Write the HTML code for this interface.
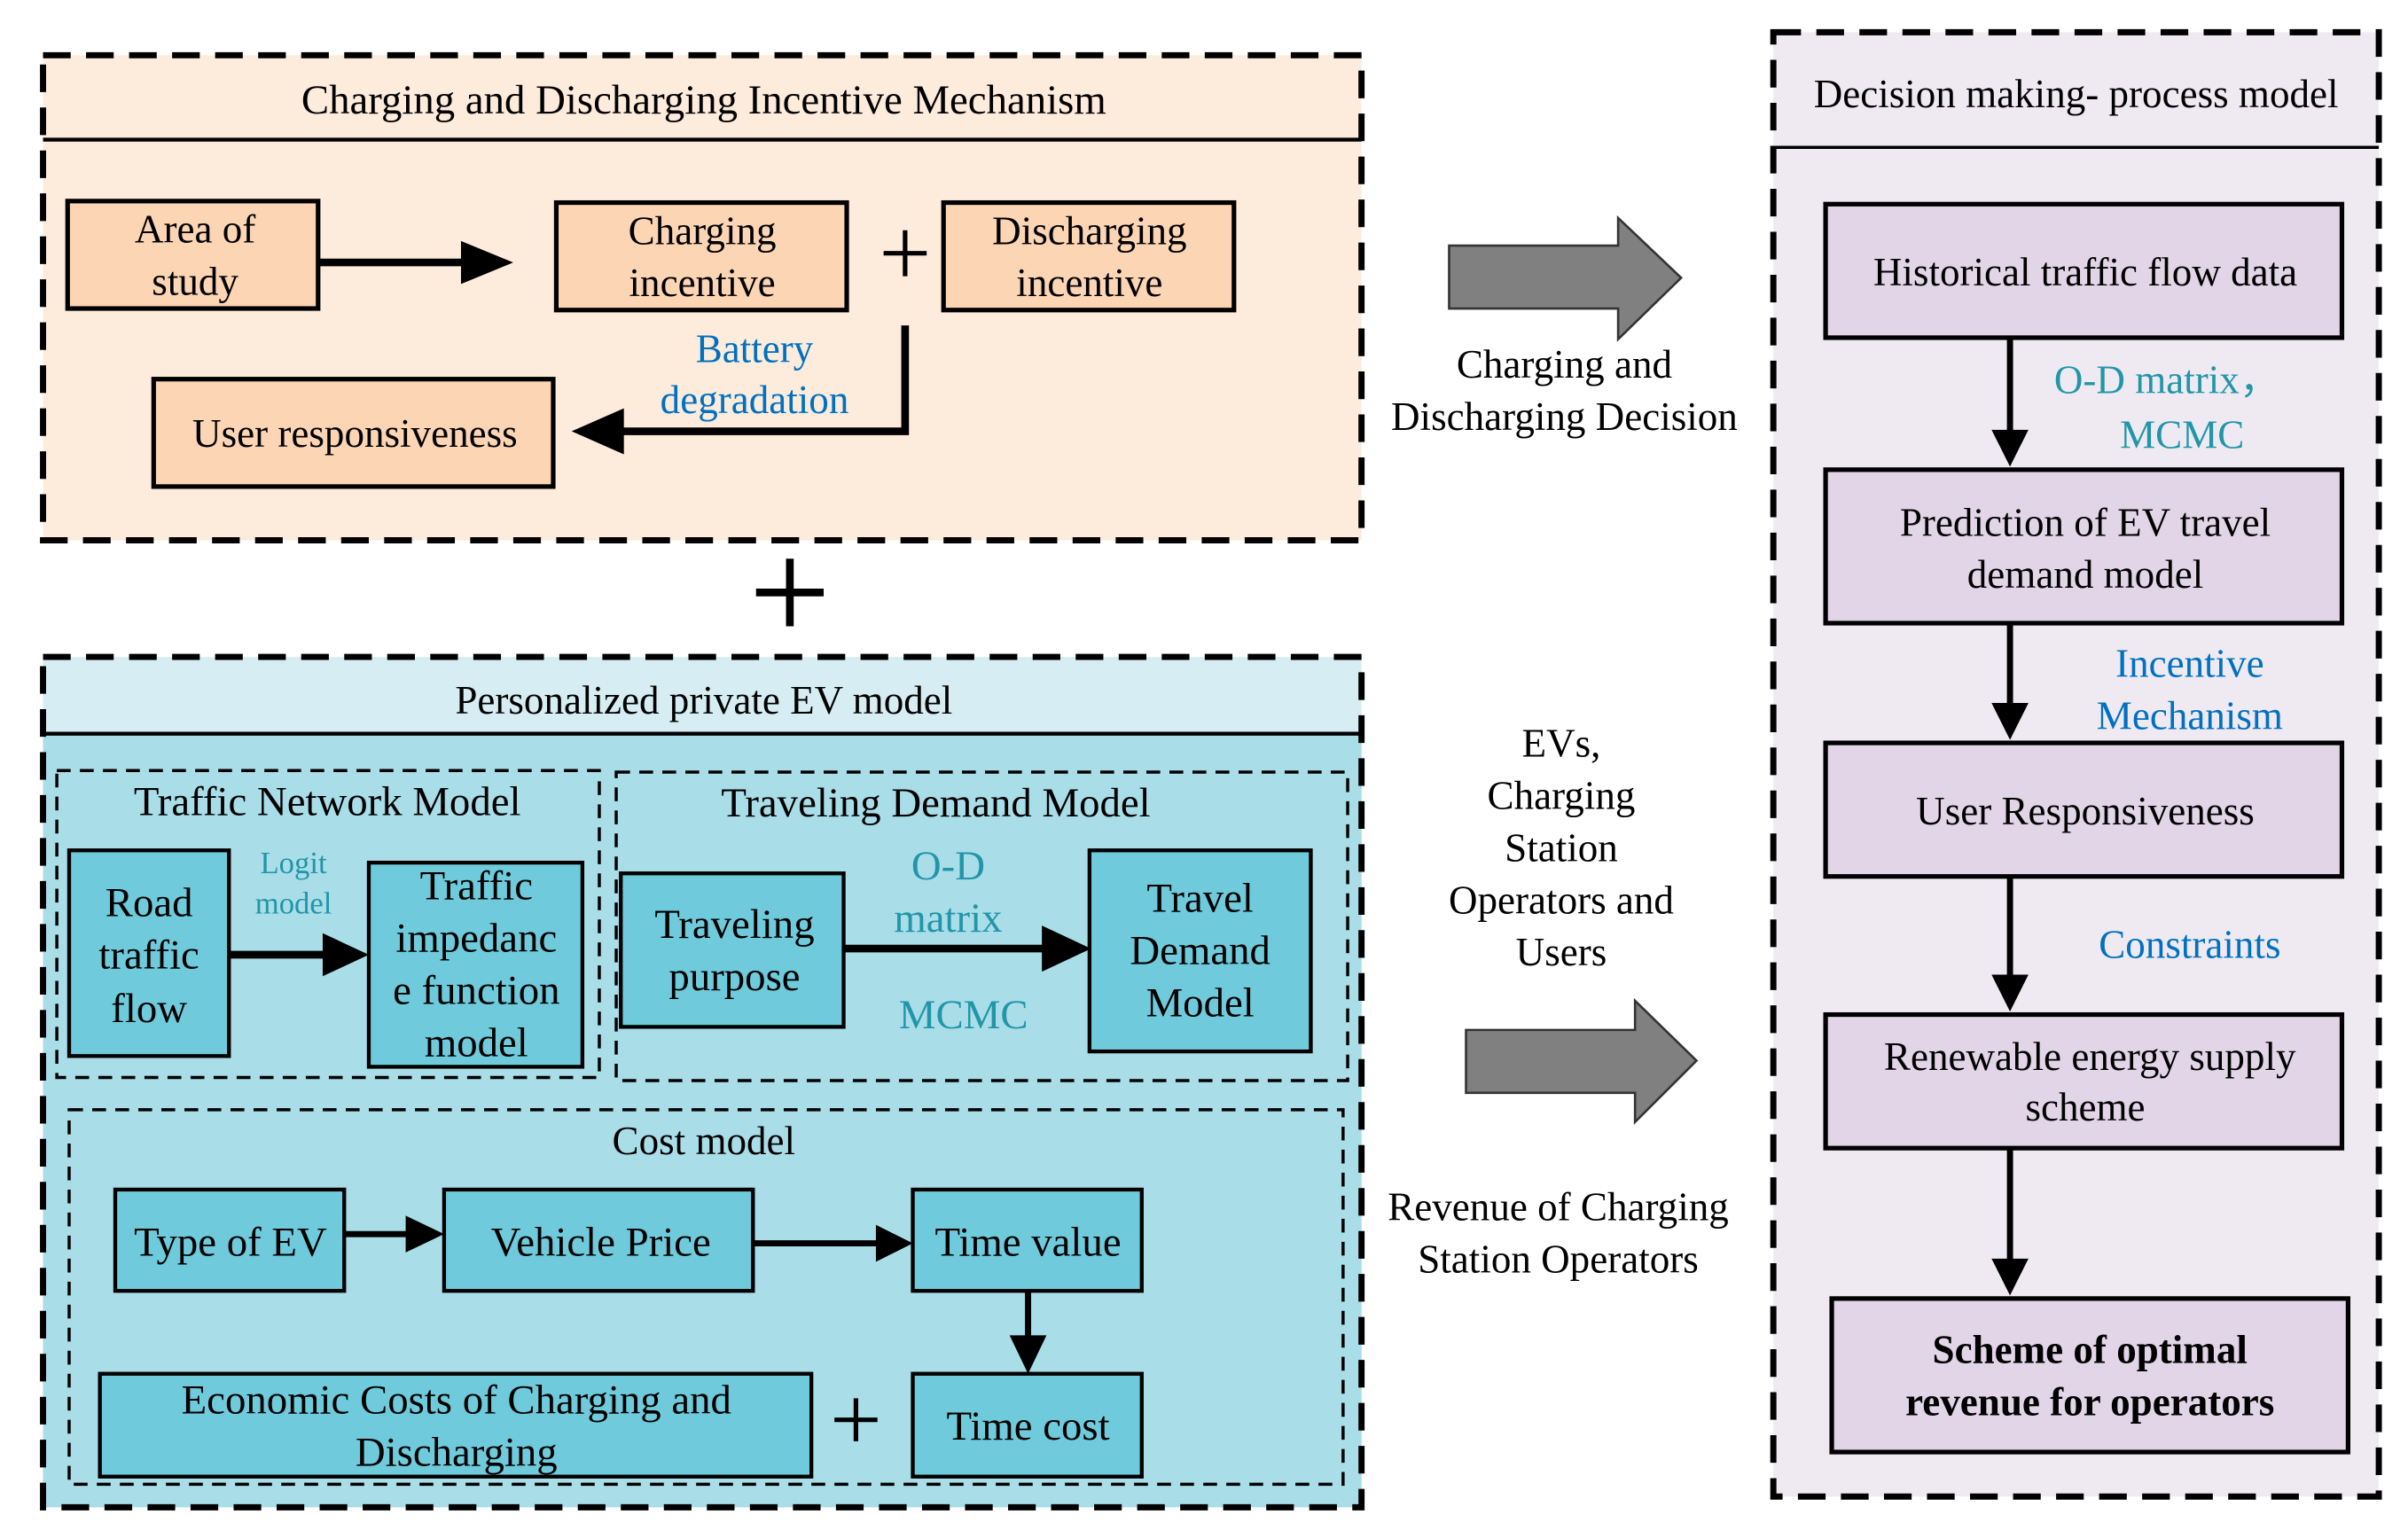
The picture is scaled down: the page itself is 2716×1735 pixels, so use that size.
<!DOCTYPE html>
<html><head><meta charset="utf-8"><style>
html,body{margin:0;padding:0;background:#fff;}
svg{display:block;}
text{font-family:"Liberation Serif",serif;fill:#000;}
</style></head><body>
<svg width="2716" height="1735" viewBox="0 0 1567 1002" preserveAspectRatio="none" xmlns="http://www.w3.org/2000/svg">
<!-- Top orange panel -->
<rect x="28" y="36" width="858" height="316" fill="#fdebdc"/>
<rect x="28" y="36" width="858" height="316" fill="none" stroke="#000" stroke-width="4" stroke-dasharray="18,10"/>
<line x1="28" y1="91" x2="886" y2="91" stroke="#000" stroke-width="2.5"/>
<text x="458" y="74" font-size="27" text-anchor="middle">Charging and Discharging Incentive Mechanism</text>
<rect x="44" y="131" width="163" height="70" fill="#fcd5b5" stroke="#000" stroke-width="3"/>
<text x="127" y="158" font-size="26" text-anchor="middle">Area of</text>
<text x="127" y="192" font-size="26" text-anchor="middle">study</text>
<line x1="207" y1="171" x2="308" y2="171" stroke="#000" stroke-width="5"/>
<path d="M300,157 L334,171 L300,185 Z" fill="#000"/>
<rect x="362" y="132" width="189" height="70" fill="#fcd5b5" stroke="#000" stroke-width="3"/>
<text x="457" y="159" font-size="26" text-anchor="middle">Charging</text>
<text x="457" y="193" font-size="26" text-anchor="middle">incentive</text>
<line x1="589" y1="150" x2="589" y2="180" stroke="#000" stroke-width="3"/>
<line x1="575" y1="165" x2="603" y2="165" stroke="#000" stroke-width="3"/>
<rect x="614" y="132" width="189" height="70" fill="#fcd5b5" stroke="#000" stroke-width="3"/>
<text x="709" y="159" font-size="26" text-anchor="middle">Discharging</text>
<text x="709" y="193" font-size="26" text-anchor="middle">incentive</text>
<polyline points="589,212 589,281 398,281" fill="none" stroke="#000" stroke-width="5"/>
<path d="M406,266 L372,281 L406,296 Z" fill="#000"/>
<text x="491" y="236" font-size="26" text-anchor="middle" style="fill:#0070c0">Battery</text>
<text x="491" y="269" font-size="26" text-anchor="middle" style="fill:#0070c0">degradation</text>
<rect x="100" y="247" width="260" height="70" fill="#fcd5b5" stroke="#000" stroke-width="3"/>
<text x="231" y="291" font-size="26" text-anchor="middle">User responsiveness</text>
<!-- big plus -->
<line x1="514" y1="364" x2="514" y2="408" stroke="#000" stroke-width="5"/>
<line x1="492" y1="386" x2="536" y2="386" stroke="#000" stroke-width="5"/>
<!-- Blue panel -->
<rect x="28" y="428" width="858" height="554" fill="#d6eef3"/>
<rect x="28" y="478" width="858" height="504" fill="#a9dde8"/>
<rect x="28" y="428" width="858" height="554" fill="none" stroke="#000" stroke-width="4" stroke-dasharray="18,10"/>
<line x1="28" y1="478" x2="886" y2="478" stroke="#000" stroke-width="2.5"/>
<text x="458" y="465" font-size="26" text-anchor="middle">Personalized  private EV model</text>
<rect x="37" y="502" width="353" height="200" fill="none" stroke="#000" stroke-width="2" stroke-dasharray="9,6"/>
<text x="213" y="531" font-size="27" text-anchor="middle">Traffic Network Model</text>
<rect x="45" y="554" width="104" height="134" fill="#6fcbdc" stroke="#000" stroke-width="2.5"/>
<text x="97" y="597" font-size="27" text-anchor="middle">Road</text>
<text x="97" y="631" font-size="27" text-anchor="middle">traffic</text>
<text x="97" y="666" font-size="27" text-anchor="middle">flow</text>
<line x1="149" y1="622" x2="218" y2="622" stroke="#000" stroke-width="5"/>
<path d="M210,608 L240,622 L210,636 Z" fill="#000"/>
<text x="191" y="569" font-size="20" text-anchor="middle" style="fill:#2196a8">Logit</text>
<text x="191" y="595" font-size="20" text-anchor="middle" style="fill:#2196a8">model</text>
<rect x="240" y="562" width="139" height="133" fill="#6fcbdc" stroke="#000" stroke-width="2.5"/>
<text x="310" y="586" font-size="27" text-anchor="middle">Traffic</text>
<text x="310" y="620" font-size="27" text-anchor="middle">impedanc</text>
<text x="310" y="654" font-size="27" text-anchor="middle">e function</text>
<text x="310" y="688" font-size="27" text-anchor="middle">model</text>
<rect x="401" y="503" width="476" height="201" fill="none" stroke="#000" stroke-width="2" stroke-dasharray="9,6"/>
<text x="609" y="532" font-size="27" text-anchor="middle">Traveling Demand Model</text>
<rect x="404" y="569" width="145" height="100" fill="#6fcbdc" stroke="#000" stroke-width="2.5"/>
<text x="478" y="611" font-size="27" text-anchor="middle">Traveling</text>
<text x="478" y="645" font-size="27" text-anchor="middle">purpose</text>
<line x1="549" y1="618" x2="686" y2="618" stroke="#000" stroke-width="5"/>
<path d="M678,603 L710,618 L678,633 Z" fill="#000"/>
<text x="617" y="573" font-size="27" text-anchor="middle" style="fill:#2196a8">O-D</text>
<text x="617" y="607" font-size="27" text-anchor="middle" style="fill:#2196a8">matrix</text>
<text x="627" y="670" font-size="27" text-anchor="middle" style="fill:#2196a8">MCMC</text>
<rect x="709" y="554" width="144" height="131" fill="#6fcbdc" stroke="#000" stroke-width="2.5"/>
<text x="781" y="594" font-size="27" text-anchor="middle">Travel</text>
<text x="781" y="628" font-size="27" text-anchor="middle">Demand</text>
<text x="781" y="662" font-size="27" text-anchor="middle">Model</text>
<rect x="45" y="723" width="829" height="244" fill="none" stroke="#000" stroke-width="2" stroke-dasharray="9,6"/>
<text x="458" y="752" font-size="26" text-anchor="middle">Cost model</text>
<rect x="75" y="775" width="149" height="66" fill="#6fcbdc" stroke="#000" stroke-width="2.5"/>
<text x="150" y="818" font-size="27" text-anchor="middle">Type of EV</text>
<line x1="224" y1="804" x2="268" y2="804" stroke="#000" stroke-width="4"/>
<path d="M264,792 L289,804 L264,816 Z" fill="#000"/>
<rect x="289" y="775" width="201" height="66" fill="#6fcbdc" stroke="#000" stroke-width="2.5"/>
<text x="391" y="818" font-size="27" text-anchor="middle">Vehicle Price</text>
<line x1="490" y1="810" x2="574" y2="810" stroke="#000" stroke-width="4"/>
<path d="M570,798 L594,810 L570,822 Z" fill="#000"/>
<rect x="594" y="775" width="149" height="66" fill="#6fcbdc" stroke="#000" stroke-width="2.5"/>
<text x="669" y="818" font-size="27" text-anchor="middle">Time value</text>
<line x1="669" y1="841" x2="669" y2="874" stroke="#000" stroke-width="4"/>
<path d="M657,870 L669,895 L681,870 Z" fill="#000"/>
<rect x="65" y="895" width="463" height="67" fill="#6fcbdc" stroke="#000" stroke-width="2.5"/>
<text x="297" y="921" font-size="27" text-anchor="middle">Economic Costs of Charging and</text>
<text x="297" y="955" font-size="27" text-anchor="middle">Discharging</text>
<line x1="557" y1="911" x2="557" y2="939" stroke="#000" stroke-width="3"/>
<line x1="543" y1="925" x2="571" y2="925" stroke="#000" stroke-width="3"/>
<rect x="594" y="895" width="149" height="67" fill="#6fcbdc" stroke="#000" stroke-width="2.5"/>
<text x="669" y="938" font-size="27" text-anchor="middle">Time cost</text>
<!-- middle arrows and labels -->
<path d="M943,160 L1053,160 L1053,142 L1094,181 L1053,221 L1053,201 L943,201 Z" fill="#808080" stroke="#333" stroke-width="1.5"/>
<text x="1018" y="246" font-size="26" text-anchor="middle">Charging and</text>
<text x="1018" y="280" font-size="26" text-anchor="middle">Discharging Decision</text>
<text x="1016" y="493" font-size="26" text-anchor="middle">EVs,</text>
<text x="1016" y="527" font-size="26" text-anchor="middle">Charging</text>
<text x="1016" y="561" font-size="26" text-anchor="middle">Station</text>
<text x="1016" y="595" font-size="26" text-anchor="middle">Operators and</text>
<text x="1016" y="629" font-size="26" text-anchor="middle">Users</text>
<path d="M954,671 L1064,671 L1064,652 L1104,691 L1064,731 L1064,712 L954,712 Z" fill="#808080" stroke="#333" stroke-width="1.5"/>
<text x="1014" y="795" font-size="26" text-anchor="middle">Revenue of Charging</text>
<text x="1014" y="829" font-size="26" text-anchor="middle">Station Operators</text>
<!-- right panel -->
<rect x="1154" y="21" width="394" height="954" fill="#efeaf2"/>
<rect x="1154" y="21" width="394" height="954" fill="none" stroke="#000" stroke-width="4" stroke-dasharray="18,10"/>
<line x1="1154" y1="96" x2="1548" y2="96" stroke="#000" stroke-width="2"/>
<text x="1351" y="70" font-size="26" text-anchor="middle">Decision making- process model</text>
<rect x="1188" y="133" width="336" height="87" fill="#e1d5e7" stroke="#000" stroke-width="3"/>
<text x="1357" y="186" font-size="26" text-anchor="middle">Historical traffic flow data</text>
<line x1="1308" y1="220" x2="1308" y2="284" stroke="#000" stroke-width="4"/>
<path d="M1296,280 L1308,304 L1320,280 Z" fill="#000"/>
<text x="1410" y="256" font-size="26" text-anchor="middle" style="fill:#2196a8">O-D matrix，</text>
<text x="1420" y="292" font-size="26" text-anchor="middle" style="fill:#2196a8">MCMC</text>
<rect x="1188" y="306" width="336" height="100" fill="#e1d5e7" stroke="#000" stroke-width="3"/>
<text x="1357" y="349" font-size="26" text-anchor="middle">Prediction of EV travel</text>
<text x="1357" y="383" font-size="26" text-anchor="middle">demand model</text>
<line x1="1308" y1="406" x2="1308" y2="462" stroke="#000" stroke-width="4"/>
<path d="M1296,458 L1308,482 L1320,458 Z" fill="#000"/>
<text x="1425" y="441" font-size="26" text-anchor="middle" style="fill:#0070c0">Incentive</text>
<text x="1425" y="475" font-size="26" text-anchor="middle" style="fill:#0070c0">Mechanism</text>
<rect x="1188" y="484" width="336" height="87" fill="#e1d5e7" stroke="#000" stroke-width="3"/>
<text x="1357" y="537" font-size="26" text-anchor="middle">User Responsiveness</text>
<line x1="1308" y1="571" x2="1308" y2="639" stroke="#000" stroke-width="4"/>
<path d="M1296,635 L1308,659 L1320,635 Z" fill="#000"/>
<text x="1425" y="624" font-size="26" text-anchor="middle" style="fill:#0070c0">Constraints</text>
<rect x="1188" y="661" width="336" height="87" fill="#e1d5e7" stroke="#000" stroke-width="3"/>
<text x="1360" y="697" font-size="26" text-anchor="middle">Renewable energy supply</text>
<text x="1357" y="730" font-size="26" text-anchor="middle">scheme</text>
<line x1="1308" y1="748" x2="1308" y2="824" stroke="#000" stroke-width="4"/>
<path d="M1296,820 L1308,844 L1320,820 Z" fill="#000"/>
<rect x="1192" y="846" width="336" height="100" fill="#e1d5e7" stroke="#000" stroke-width="3"/>
<text x="1360" y="888" font-size="26" font-weight="bold" text-anchor="middle">Scheme of optimal</text>
<text x="1360" y="922" font-size="26" font-weight="bold" text-anchor="middle">revenue for operators</text>
</svg>
</body></html>
